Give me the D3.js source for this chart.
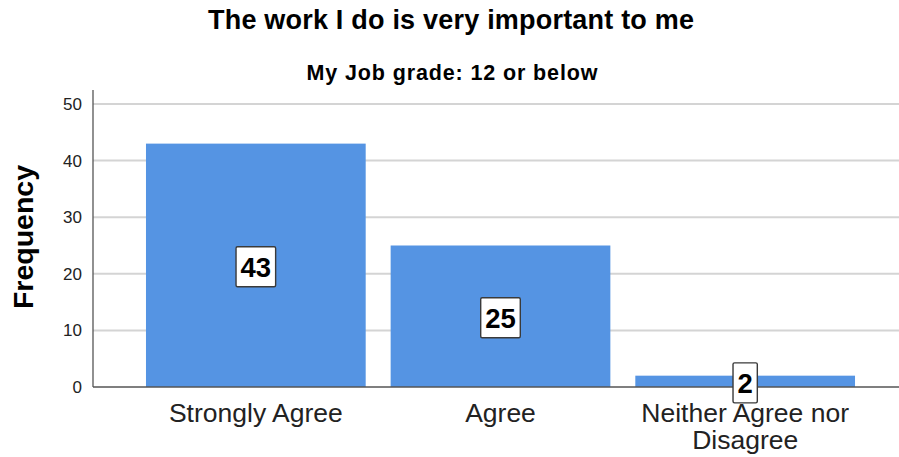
<!DOCTYPE html>
<html>
<head>
<meta charset="utf-8">
<script src="https://cdn.jsdelivr.net/npm/d3@7"></script>
<style>
  html, body { margin: 0; padding: 0; background: #fff; }
  svg { display: block; font-family: Arial, "Liberation Sans", sans-serif; }
</style>
</head>
<body>
<svg id="chart" width="899" height="457"></svg>
<script>
// Response categories and their frequencies
const categories = ["Strongly Agree", "Agree", "Neither Agree nor Disagree"];
const categoryLines = [["Strongly Agree"], ["Agree"], ["Neither Agree nor", "Disagree"]];
const frequencies = [43, 25, 2];
const yTicks = [0, 10, 20, 30, 40, 50];

const svg = d3.select("#chart");
const plot = { left: 93, right: 899, top: 90, bottom: 387 };

const x = d3.scaleBand()
  .domain(categories)
  .range([133.5, 867.5])
  .paddingInner(0.102)
  .paddingOuter(0.051);

const y = d3.scaleLinear()
  .domain([0, 50])
  .range([plot.bottom, 104]);

// Titles
svg.append("text")
  .attr("x", 451).attr("y", 29)
  .attr("text-anchor", "middle")
  .attr("font-size", 27).attr("font-weight", "bold")
  .attr("fill", "#000")
  .attr("textLength", 486).attr("lengthAdjust", "spacing")
  .text("The work I do is very important to me");

svg.append("text")
  .attr("x", 452).attr("y", 80)
  .attr("text-anchor", "middle")
  .attr("font-size", 21.5).attr("font-weight", "bold")
  .attr("fill", "#000")
  .attr("textLength", 291).attr("lengthAdjust", "spacing")
  .text("My Job grade: 12 or below");

// Horizontal gridlines
svg.append("g")
  .selectAll("line")
  .data(yTicks.filter(d => d > 0))
  .join("line")
  .attr("x1", plot.left).attr("x2", plot.right)
  .attr("y1", d => y(d)).attr("y2", d => y(d))
  .attr("stroke", "#d4d4d4").attr("stroke-width", 2);

// Y axis
const yAxis = svg.append("g")
  .attr("transform", `translate(${plot.left},0)`)
  .call(d3.axisLeft(y).tickValues(yTicks).tickSize(0).tickPadding(11));
yAxis.select(".domain").remove();
yAxis.selectAll("text")
  .attr("font-size", 17).attr("fill", "#222")
  .attr("font-family", "Arial, 'Liberation Sans', sans-serif");

svg.append("line")
  .attr("x1", plot.left).attr("x2", plot.left)
  .attr("y1", plot.top).attr("y2", plot.bottom)
  .attr("stroke", "#555").attr("stroke-width", 1.3);

// Bars
svg.append("g")
  .selectAll("rect")
  .data(frequencies)
  .join("rect")
  .attr("x", (d, i) => x(categories[i]))
  .attr("width", x.bandwidth())
  .attr("y", d => y(d))
  .attr("height", d => y(0) - y(d))
  .attr("fill", "#5594e3");

// X baseline
svg.append("line")
  .attr("x1", plot.left).attr("x2", plot.right)
  .attr("y1", plot.bottom).attr("y2", plot.bottom)
  .attr("stroke", "#555").attr("stroke-width", 1.3);

// Category labels (wrapped onto separate lines where needed)
const catG = svg.append("g")
  .selectAll("text")
  .data(categories)
  .join("text")
  .attr("text-anchor", "middle")
  .attr("font-size", 26.5).attr("fill", "#222")
  .attr("transform", d => `translate(${x(d) + x.bandwidth() / 2},422)`);
catG.selectAll("tspan")
  .data((d, i) => categoryLines[i])
  .join("tspan")
  .attr("x", 0)
  .attr("dy", (d, j) => j === 0 ? 0 : 27)
  .text(d => d);

// Value labels in boxes at bar midpoints
const labels = svg.append("g")
  .selectAll("g")
  .data(frequencies)
  .join("g")
  .attr("transform", (d, i) => `translate(${x(categories[i]) + x.bandwidth() / 2},${y(d / 2) + 1.5})`);

labels.append("text")
  .attr("text-anchor", "middle")
  .attr("dy", "0.36em")
  .attr("font-size", 27.5).attr("font-weight", "bold")
  .attr("fill", "#000")
  .text(d => d);

labels.each(function () {
  const g = d3.select(this);
  const bb = g.select("text").node().getBBox();
  g.insert("rect", "text")
    .attr("x", bb.x - 4.5).attr("width", bb.width + 9)
    .attr("y", -20).attr("height", 40)
    .attr("rx", 1.5)
    .attr("fill", "#fff")
    .attr("stroke", "#3a3a3a").attr("stroke-width", 1.4);
});

// Y axis title
svg.append("text")
  .attr("transform", "translate(33,237) rotate(-90)")
  .attr("text-anchor", "middle")
  .attr("font-size", 28.5).attr("font-weight", "bold")
  .attr("fill", "#000")
  .text("Frequency");
</script>
</body>
</html>
